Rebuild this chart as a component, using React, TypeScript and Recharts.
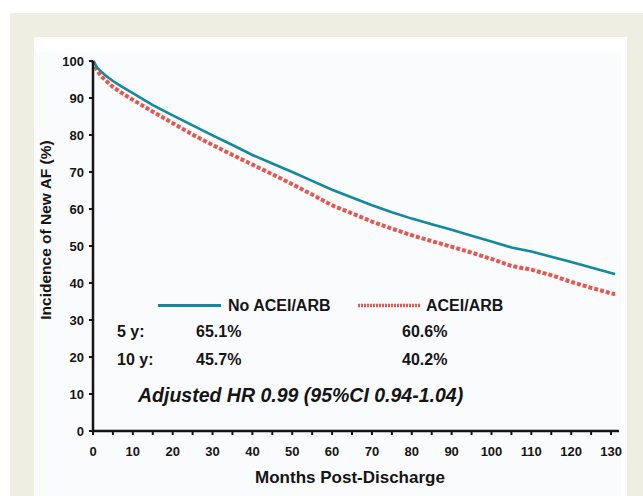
import { CartesianGrid, Legend, Line, LineChart, XAxis, YAxis } from "recharts"

// months after discharge
const months = [0, 1, 2, 3, 5, 7, 10, 15, 20, 25, 30, 35, 40, 45, 50, 55, 60, 65, 70, 75, 80, 85, 90, 95, 100, 105, 110, 115, 120, 125, 130, 131];
// incidence of new AF (%)
const noAceiArb = [100, 98.3, 97.2, 96.2, 94.6, 93.2, 91.3, 88.1, 85.3, 82.6, 79.9, 77.3, 74.6, 72.3, 70.0, 67.6, 65.2, 63.1, 61.0, 59.1, 57.4, 55.9, 54.4, 52.8, 51.2, 49.6, 48.5, 47.1, 45.7, 44.2, 42.7, 42.4];
const aceiArb = [100, 97.4, 96.0, 94.9, 93.0, 91.5, 89.5, 86.3, 83.2, 80.1, 77.3, 74.6, 72.0, 69.4, 66.7, 63.9, 61.0, 58.8, 56.6, 54.7, 52.9, 51.3, 49.8, 48.2, 46.5, 44.6, 43.6, 42.1, 40.3, 38.7, 37.2, 37.0];

const xTicks = [0, 5, 10, 15, 20, 25, 30, 35, 40, 45, 50, 55, 60, 65, 70, 75, 80, 85, 90, 95, 100, 105, 110, 115, 120, 125, 130];
const yTicks = [0, 10, 20, 30, 40, 50, 60, 70, 80, 90, 100];

const seriesNames = ["No ACEI/ARB", "ACEI/ARB"];
const rateRows = [
  { label: "5 y:", no: "65.1%", yes: "60.6%" },
  { label: "10 y:", no: "45.7%", yes: "40.2%" },
];
const hrText = "Adjusted HR 0.99 (95%CI 0.94-1.04)";

const data = months.map((m, i) => ({ month: m, noAcei: noAceiArb[i], acei: aceiArb[i] }));

const FONT = '"Liberation Sans", Arial, sans-serif';
const BLUE = "#13899b";
const RED = "#e5574f";
const INK = "#151515";

const YTitle = (props: any) => {
  const { viewBox } = props;
  const cx = viewBox.x + 11;
  const cy = viewBox.y + viewBox.height / 2 - 16;
  return (
    <text x={cx} y={cy} transform={`rotate(-90 ${cx} ${cy})`} textAnchor="middle" dominantBaseline="central"
      fontFamily={FONT} fontWeight={700} fontSize={15.5} fill={INK}>
      Incidence of New AF (%)
    </text>
  );
};

const XTitle = (props: any) => {
  const { viewBox } = props;
  const cx = viewBox.x + viewBox.width / 2 - 6;
  const cy = viewBox.y + 46;
  return (
    <text x={cx} y={cy} textAnchor="middle" dominantBaseline="central"
      fontFamily={FONT} fontWeight={700} fontSize={17} fill={INK}>
      Months Post-Discharge
    </text>
  );
};

const LegendBox = () => (
  <div style={{ position: "relative", width: 400, height: 20, fontFamily: FONT, fontWeight: 700, fontSize: 16, color: INK }}>
    <svg width={400} height={20} style={{ position: "absolute", left: 0, top: 0 }}>
      <line x1={0} y1={9.5} x2={63} y2={9.5} stroke={BLUE} strokeWidth={3} />
      <line x1={200} y1={9.5} x2={262} y2={9.5} stroke={RED} strokeWidth={3.5} strokeDasharray="2 1" />
    </svg>
    <span style={{ position: "absolute", left: 70, top: 0, lineHeight: "20px", whiteSpace: "nowrap" }}>{seriesNames[0]}</span>
    <span style={{ position: "absolute", left: 268, top: 0, lineHeight: "20px", whiteSpace: "nowrap" }}>{seriesNames[1]}</span>
  </div>
);

export default function App() {
  const textStyle = { position: "absolute" as const, fontFamily: FONT, fontWeight: 700, fontSize: 16, color: INK, lineHeight: "20px", whiteSpace: "nowrap" as const };
  return (
    <div style={{ position: "absolute", left: 0, top: 0, width: 643, height: 496, overflow: "hidden", background: "#ffffff" }}>
      <div style={{ position: "absolute", left: 10, top: 13, width: 633, height: 483, background: "#efeee3" }} />
      <div style={{ position: "absolute", left: 34, top: 37, width: 593, height: 459, background: "#ffffff" }} />
      <div style={{ position: "absolute", left: 35, top: 52, width: 586, height: 444, background: "#fafbfd" }} />
      <div style={{ position: "absolute", left: 34, top: 37 }}>
        <LineChart width={593} height={459} data={data} margin={{ top: 24, right: 8, bottom: 0, left: 0 }}>
          <CartesianGrid stroke="none" />
          <XAxis dataKey="month" type="number" domain={[0, 132]} ticks={xTicks} interval={0} height={65}
            tickFormatter={(v: number) => (v % 10 === 0 ? String(v) : "")}
            tick={{ fontSize: 13, fontWeight: 700, fill: INK, fontFamily: FONT }}
            tickSize={4} tickMargin={12}
            axisLine={{ stroke: INK, strokeWidth: 2.5 }} tickLine={{ stroke: INK, strokeWidth: 2 }}
            label={<XTitle />} />
          <YAxis type="number" domain={[0, 100]} ticks={yTicks} interval={0} width={59}
            tick={{ fontSize: 13, fontWeight: 700, fill: INK, fontFamily: FONT }}
            tickSize={4} tickMargin={5}
            axisLine={{ stroke: INK, strokeWidth: 2.5 }} tickLine={{ stroke: INK, strokeWidth: 2 }}
            label={<YTitle />} />
          <Legend layout="vertical" align="center" verticalAlign="middle" content={<LegendBox />}
            wrapperStyle={{ left: 124, top: 259, width: 400, height: 20 }} />
          <Line type="linear" dataKey="acei" name={seriesNames[1]} stroke={RED} strokeWidth={4}
            strokeDasharray="4 2" dot={false} isAnimationActive={false} />
          <Line type="linear" dataKey="noAcei" name={seriesNames[0]} stroke={BLUE} strokeWidth={2.6}
            dot={false} isAnimationActive={false} />
        </LineChart>
      </div>
      {rateRows.map((r, i) => (
        <div key={r.label}>
          <div style={{ ...textStyle, left: 117, top: 322 + i * 28 }}>{r.label}</div>
          <div style={{ ...textStyle, left: 196, top: 322 + i * 28 }}>{r.no}</div>
          <div style={{ ...textStyle, left: 402, top: 322 + i * 28 }}>{r.yes}</div>
        </div>
      ))}
      <div style={{ ...textStyle, left: 138, top: 383, fontSize: 19.5, fontStyle: "italic", lineHeight: "24px" }}>{hrText}</div>
    </div>
  );
}
